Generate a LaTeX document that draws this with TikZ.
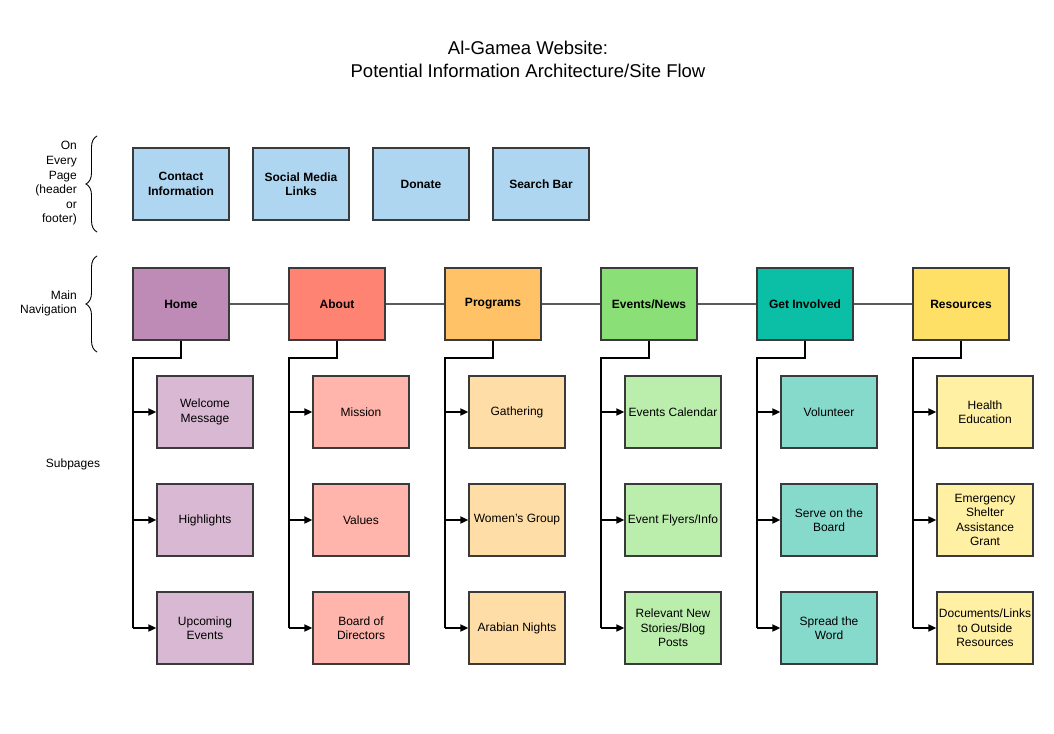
\documentclass[tikz,border=0pt]{standalone}
\usepackage{fontspec}
\setmainfont{Liberation Sans}
\usetikzlibrary{arrows.meta,decorations.pathreplacing}
\definecolor{topc}{HTML}{AED6F1}
\definecolor{homec}{HTML}{BE8BB6}\definecolor{homes}{HTML}{D9B8D3}
\definecolor{aboutc}{HTML}{FF8373}\definecolor{abouts}{HTML}{FFB5AB}
\definecolor{progc}{HTML}{FFC266}\definecolor{progs}{HTML}{FFDDA6}
\definecolor{evc}{HTML}{8AE076}\definecolor{evs}{HTML}{BBEEAD}
\definecolor{gic}{HTML}{0BBFA6}\definecolor{gis}{HTML}{85DACC}
\definecolor{resc}{HTML}{FFE066}\definecolor{ress}{HTML}{FFF0A3}
\definecolor{bord}{HTML}{3A3A3A}
\definecolor{mainline}{HTML}{5A5A5A}
\begin{document}
\begin{tikzpicture}[x=1pt,y=-1pt,
  box/.style={draw=bord, line width=1.3pt, minimum width=96pt, minimum height=72pt,
    inner sep=1pt, align=center, font=\fontsize{12}{14.4}\selectfont},
  bbox/.style={box, font=\fontsize{12}{14.4}\selectfont\bfseries},
  lbl/.style={align=right, inner sep=0pt, font=\fontsize{12}{14.6}\selectfont},
  mainconn/.style={draw=mainline, line width=1.6pt},
  subconn/.style={draw=black, line width=1.8pt},
  arr/.style={subconn, -{Triangle[length=8pt,width=7pt]}},
  brc/.style={draw=black, line width=0.9pt, decorate, decoration={brace, amplitude=11pt}}]
\useasboundingbox (0,0) rectangle (1054,733);
\node[align=center, inner sep=0pt, font=\fontsize{18.5}{23}\selectfont] (title) at (528,59.5)
  {Al-Gamea Website:\\Potential Information Architecture/Site Flow};
% left labels
\node[lbl, anchor=east] (lab1) at (77,183.5) {On\\Every\\Page\\(header\\or\\footer)};
\node[lbl, anchor=east] (lab2) at (77,303.5) {Main\\Navigation};
\node[lbl] (lab3) at (73,464) {Subpages};
\draw[brc] (97,232) -- (97,136);
\draw[brc] (97,352) -- (97,256);
% top row
\node[bbox, fill=topc] (t1) at (181,184) {Contact\\Information};
\node[bbox, fill=topc] (t2) at (301,184) {Social Media\\Links};
\node[bbox, fill=topc] (t3) at (421,184) {Donate};
\node[bbox, fill=topc] (t4) at (541,184) {Search Bar};
% main + subs
\foreach \i/\mc/\sc/\mt/\sa/\sb/\sd in {
  0/homec/homes/Home/{Welcome\\Message}/Highlights/{Upcoming\\Events},
  1/aboutc/abouts/About/Mission/Values/{Board of\\Directors},
  2/progc/progs/Programs/Gathering/{Women's Group}/{Arabian Nights},
  3/evc/evs/{Events/News}/{Events Calendar}/{Event Flyers/Info}/{Relevant New\\Stories/Blog\\Posts},
  4/gic/gis/{Get Involved}/Volunteer/{Serve on the\\Board}/{Spread the\\Word},
  5/resc/ress/Resources/{Health\\Education}/{Emergency\\Shelter\\Assistance\\Grant}/{Documents/Links\\to Outside\\Resources}}
{
  \pgfmathsetmacro{\xx}{133+156*\i}
  \node[bbox, fill=\mc] (m\i) at (\xx+48,304) {\mt};
  \node[box, fill=\sc] (s\i a) at (\xx+72,412) {\sa};
  \node[box, fill=\sc] (s\i b) at (\xx+72,520) {\sb};
  \node[box, fill=\sc] (s\i c) at (\xx+72,628) {\sd};
  \coordinate (j\i) at (\xx,358);
  \draw[subconn] (m\i.south) |- (j\i) -- (j\i |- s\i c.west);
  \draw[arr] (j\i |- s\i a.west) -- (s\i a.west);
  \draw[arr] (j\i |- s\i b.west) -- (s\i b.west);
  \draw[arr] (j\i |- s\i c.west) -- (s\i c.west);
}
\foreach \a/\b in {0/1,1/2,2/3,3/4,4/5}
  \draw[mainconn] (m\a.east) -- (m\b.west);
\end{tikzpicture}
\end{document}
